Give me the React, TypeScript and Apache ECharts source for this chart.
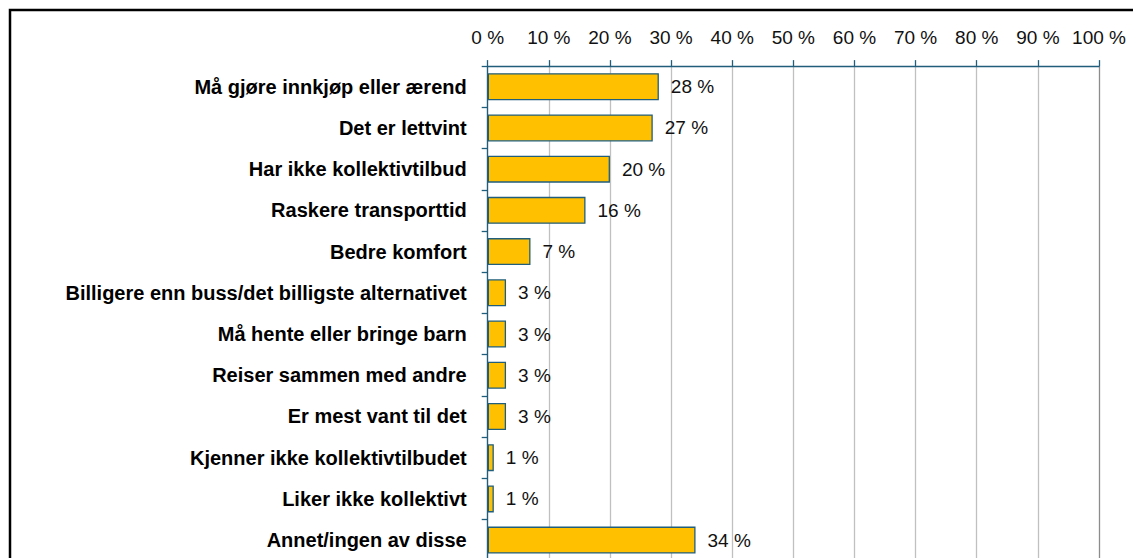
import React, { useEffect, useRef } from "react";
import * as echarts from "echarts";

const categories = [
  "Må gjøre innkjøp eller ærend",
  "Det er lettvint",
  "Har ikke kollektivtilbud",
  "Raskere transporttid",
  "Bedre komfort",
  "Billigere enn buss/det billigste alternativet",
  "Må hente eller bringe barn",
  "Reiser sammen med andre",
  "Er mest vant til det",
  "Kjenner ikke kollektivtilbudet",
  "Liker ikke kollektivt",
  "Annet/ingen av disse",
];
const values = [28, 27, 20, 16, 7, 3, 3, 3, 3, 1, 1, 34];

const AXIS_COLOR = "#215E7C";
const FONT = "'Liberation Sans', Arial, Helvetica, sans-serif";

export default function App() {
  const ref = useRef<HTMLDivElement>(null);
  useEffect(() => {
    if (!ref.current) return;
    const chart = echarts.init(ref.current, undefined, { renderer: "svg" });
    const gridColors = [
      "#C0C0C0", "#C0C0C0", "#C0C0C0", "#C0C0C0", "#C0C0C0", "#C0C0C0",
      "#C0C0C0", "#C0C0C0", "#C0C0C0", "#C0C0C0", "#8C8C8C",
    ];
    chart.setOption({
      animation: false,
      backgroundColor: "#ffffff",
      textStyle: { fontFamily: FONT },
      graphic: [
        {
          type: "rect",
          shape: { x: 10, y: 10, width: 1300, height: 800 },
          style: { fill: "none", stroke: "#000000", lineWidth: 2.5 },
          z: 100,
        },
      ],
      grid: { left: 487.7, right: 34, top: 66.1, bottom: 39.3, containLabel: false },
      xAxis: {
        type: "value",
        position: "top",
        min: 0,
        max: 100,
        interval: 10,
        axisLine: { show: true, lineStyle: { color: AXIS_COLOR, width: 1.3 } },
        axisTick: { show: true, length: 6, lineStyle: { color: AXIS_COLOR, width: 1.3 } },
        axisLabel: {
          formatter: "{value} %",
          fontSize: 19,
          color: "#111111",
          margin: 19,
          fontFamily: FONT,
        },
        splitLine: { show: true, lineStyle: { color: gridColors, width: 1.3 } },
      },
      yAxis: {
        type: "category",
        inverse: true,
        data: categories,
        axisLine: { show: true, lineStyle: { color: AXIS_COLOR, width: 1.3 } },
        axisTick: { show: true, length: 6, alignWithLabel: false, lineStyle: { color: AXIS_COLOR, width: 1.3 } },
        axisLabel: {
          fontSize: 20,
          fontWeight: "bold",
          color: "#000000",
          margin: 21,
          fontFamily: FONT,
        },
        splitLine: { show: false },
      },
      series: [
        {
          type: "bar",
          data: values,
          barWidth: 27,
          itemStyle: { color: "#FFC000", borderColor: AXIS_COLOR, borderWidth: 1.3 },
          label: {
            show: true,
            position: "right",
            distance: 12,
            formatter: "{c} %",
            fontSize: 19,
            color: "#111111",
            fontFamily: FONT,
          },
        },
      ],
    });
    return () => chart.dispose();
  }, []);
  return (
    <div
      style={{
        position: "fixed",
        left: 0,
        top: 0,
        width: 1133,
        height: 558,
        overflow: "hidden",
        background: "#ffffff",
      }}
    >
      <div ref={ref} style={{ width: 1133, height: 600 }} />
    </div>
  );
}
